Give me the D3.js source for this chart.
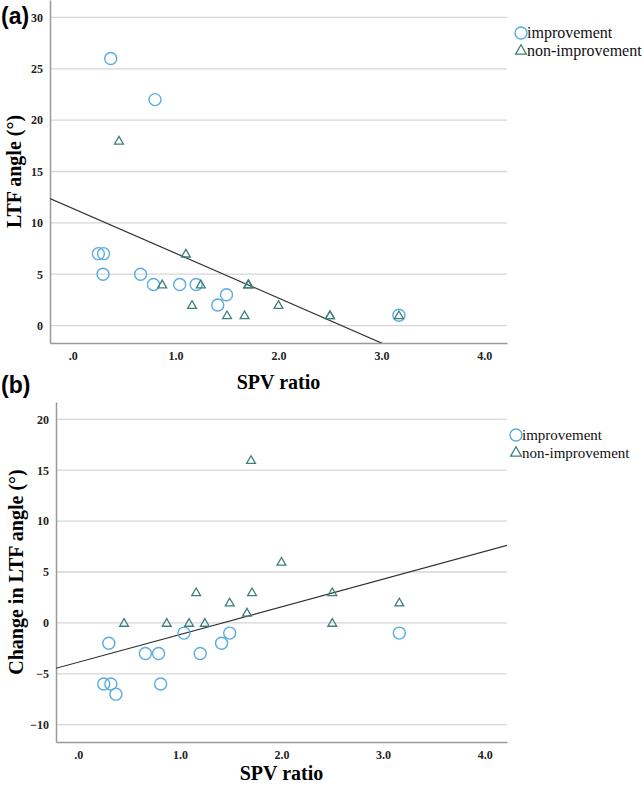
<!DOCTYPE html>
<html><head><meta charset="utf-8">
<script src="https://cdn.jsdelivr.net/npm/d3@7"></script>
<style>body{margin:0;background:#fff}svg{display:block}</style>
</head><body>
<svg id="c" width="644" height="786"></svg>
<script>
// Panel (a): LTF angle vs SPV ratio
const aImpX = [0.37, 0.80, 0.25, 0.30, 0.295, 0.66, 0.785, 1.04, 1.20, 1.41, 1.495, 3.17];
const aImpY = [26, 22, 7, 7, 5, 5, 4, 4, 4, 2, 3, 1];
const aNonX = [0.45, 0.87, 1.10, 1.16, 1.245, 1.50, 1.67, 1.705, 1.71, 2.0, 2.5, 2.5, 3.17];
const aNonY = [18, 4, 7, 2, 4, 1, 1, 4, 4, 2, 1, 1, 1];
// Panel (b): change in LTF angle vs SPV ratio
const bImpX = [0.25, 0.32, 0.30, 0.37, 0.66, 0.79, 0.81, 1.04, 1.20, 1.41, 1.49, 3.16];
const bImpY = [-6, -6, -2, -7, -3, -3, -6, -1, -3, -2, -1, -1];
const bNonX = [0.45, 0.87, 1.09, 1.16, 1.245, 1.49, 1.66, 1.71, 1.70, 2.0, 2.5, 2.5, 3.16];
const bNonY = [0, 0, 0, 3, 0, 2, 1, 3, 16, 6, 3, 0, 2];
// fit lines (intercept, slope)
const aFit = [11.41, -4.37];
const bFit = [-3.86, 2.72];
const xTicks = [0, 1, 2, 3, 4];
const xTickLabels = [".0", "1.0", "2.0", "3.0", "4.0"];
const aYTicks = [0, 5, 10, 15, 20, 25, 30];
const bYTicks = [-10, -5, 0, 5, 10, 15, 20];
const legendLabels = ["improvement", "non-improvement"];

const svg = d3.select("#c");
const impColor = "#5aacdf", nonColor = "#3e7f7b";
const serif = "'Liberation Serif','Times New Roman',serif";

function panel(o) {
  const g = svg.append("g");
  const x = d3.scaleLinear().domain([-0.22, 4.22]).range([o.left, 507]);
  const y = d3.scaleLinear().domain(o.ydom).range([o.bottom, o.top]);
  g.selectAll(".grid").data(o.yTicks).join("line")
    .attr("x1", o.left).attr("x2", 507)
    .attr("y1", d => y(d)).attr("y2", d => y(d))
    .attr("stroke", "#d6d6d6").attr("stroke-width", 1.3);
  const ya = g.append("g").attr("transform", `translate(${o.left},0)`)
    .call(d3.axisLeft(y).tickValues(o.yTicks).tickSize(0).tickPadding(7).tickFormat(d3.format("d")));
  ya.select(".domain").attr("stroke", "#9a9a9a").attr("stroke-width", 1.5);
  ya.selectAll("text").attr("font-family", serif).attr("font-weight", "bold").attr("font-size", 12).attr("fill", "#222");
  const xa = g.append("g").attr("transform", `translate(0,${o.bottom})`)
    .call(d3.axisBottom(x).tickValues(xTicks).tickSize(0).tickPadding(8).tickFormat((d, i) => xTickLabels[i]));
  xa.select(".domain").attr("stroke", "#9a9a9a").attr("stroke-width", 1.5);
  xa.selectAll("text").attr("font-family", serif).attr("font-weight", "bold").attr("font-size", 12).attr("fill", "#222");
  const clipId = "clip" + o.name;
  svg.append("clipPath").attr("id", clipId).append("rect")
    .attr("x", o.left).attr("y", o.top).attr("width", 507 - o.left).attr("height", o.bottom - o.top);
  const [x0, x1] = x.domain();
  g.append("line").attr("clip-path", `url(#${clipId})`)
    .attr("x1", x(x0)).attr("y1", y(o.fit[0] + o.fit[1] * x0))
    .attr("x2", x(x1)).attr("y2", y(o.fit[0] + o.fit[1] * x1))
    .attr("stroke", "#333").attr("stroke-width", 1.2);
  const imp = o.impX.map((v, i) => [v, o.impY[i]]);
  const non = o.nonX.map((v, i) => [v, o.nonY[i]]);
  g.selectAll(".imp").data(imp).join("circle")
    .attr("cx", d => x(d[0])).attr("cy", d => y(d[1])).attr("r", 6)
    .attr("fill", "none").attr("stroke", impColor).attr("stroke-width", 1.4);
  const tri = d3.symbol().type(d3.symbolTriangle).size(34);
  g.selectAll(".non").data(non).join("path")
    .attr("d", tri).attr("transform", d => `translate(${x(d[0])},${y(d[1]) + 0.8})`)
    .attr("fill", "none").attr("stroke", nonColor).attr("stroke-width", 1.3);
  g.append("text").attr("x", (o.left + 507) / 2).attr("y", o.xTitleY).attr("text-anchor", "middle")
    .attr("font-family", serif).attr("font-weight", "bold").attr("font-size", 20).text("SPV ratio");
  g.append("text").attr("transform", `translate(${o.yTitleX},${(o.top + o.bottom) / 2}) rotate(-90)`)
    .attr("text-anchor", "middle").attr("font-family", serif).attr("font-weight", "bold").attr("font-size", 20)
    .text(o.yTitle);
  g.append("text").attr("x", 1).attr("y", o.labelY).attr("font-family", "'Liberation Sans',Arial,sans-serif")
    .attr("font-weight", "bold").attr("font-size", 23).text(o.label);
  const lg = g.append("g");
  lg.append("circle").attr("cx", o.legX).attr("cy", o.legY).attr("r", 6)
    .attr("fill", "none").attr("stroke", impColor).attr("stroke-width", 1.4);
  lg.append("path").attr("d", d3.symbol().type(d3.symbolTriangle).size(50))
    .attr("transform", `translate(${o.legX},${o.legY + 18})`)
    .attr("fill", "none").attr("stroke", nonColor).attr("stroke-width", 1.3);
  legendLabels.forEach((t, i) => {
    lg.append("text").attr("x", o.legX + 6).attr("y", o.legY + i * 18 + 5)
      .attr("font-family", serif).attr("font-size", o.legSize).attr("fill", "#111").text(t);
  });
}

panel({name: "a", left: 50, top: 0, bottom: 343, ydom: [-1.7, 31.7], yTicks: aYTicks,
  impX: aImpX, impY: aImpY, nonX: aNonX, nonY: aNonY, fit: aFit,
  xTitleY: 389, yTitleX: 21, yTitle: "LTF angle (°)", label: "(a)", labelY: 24,
  legX: 521, legY: 33, legSize: 16});
panel({name: "b", left: 56, top: 402, bottom: 742, ydom: [-11.7, 21.7], yTicks: bYTicks,
  impX: bImpX, impY: bImpY, nonX: bNonX, nonY: bNonY, fit: bFit,
  xTitleY: 780, yTitleX: 23, yTitle: "Change in LTF angle (°)", label: "(b)", labelY: 393,
  legX: 516, legY: 435, legSize: 15});
</script>
</body></html>
